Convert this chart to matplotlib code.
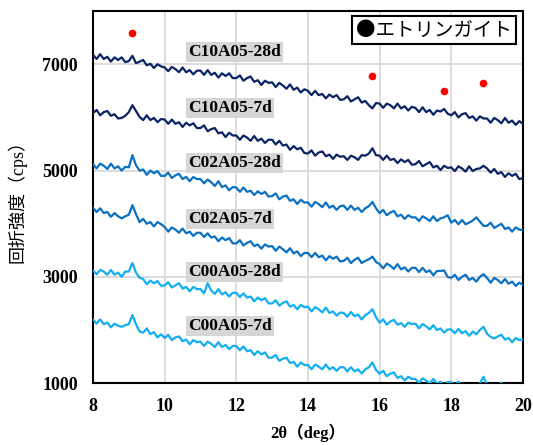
import numpy as np
import matplotlib
matplotlib.use("Agg")
import matplotlib.pyplot as plt

# scan grid: 8 - 20 deg, 0.1 deg step
two_theta = np.linspace(8.0, 20.0, 121)

c10a05_28d = [
    7180, 7100, 7190, 7100, 7140, 7050, 7130, 7080, 7130, 7040,
    7060, 7160, 7020, 7050, 7080, 6980, 7010, 6930, 7000, 6960,
    6940, 6870, 6950, 6910, 6850, 6940, 6850, 6890, 6810, 6880,
    6880, 6800, 6890, 6800, 6840, 6750, 6830, 6780, 6830, 6740,
    6740, 6790, 6690, 6740, 6770, 6670, 6700, 6610, 6690, 6650,
    6660, 6570, 6650, 6600, 6540, 6620, 6520, 6560, 6470, 6530,
    6500, 6420, 6500, 6420, 6440, 6360, 6430, 6380, 6420, 6330,
    6340, 6400, 6300, 6340, 6380, 6280, 6310, 6230, 6170, 6270,
    6260, 6180, 6260, 6230, 6170, 6260, 6170, 6210, 6130, 6200,
    6180, 6100, 6190, 6100, 6140, 6050, 6130, 6110, 6160, 6070,
    6040, 6100, 6000, 6060, 6080, 5990, 6020, 5940, 6020, 5980,
    5980, 5900, 5990, 5950, 5890, 5990, 5900, 5940, 5860, 5930, 5880,
]
c10a05_7d = [
    6080, 6140, 6040, 6100, 6120, 6030, 6060, 5980, 5990, 6030,
    6100, 6230, 6120, 6010, 5950, 6040, 5950, 5990, 5910, 5970,
    5960, 5880, 5960, 5880, 5910, 5820, 5900, 5850, 5890, 5800,
    5800, 5850, 5740, 5780, 5800, 5700, 5720, 5630, 5710, 5660,
    5660, 5580, 5660, 5620, 5560, 5650, 5560, 5600, 5520, 5580,
    5580, 5490, 5560, 5470, 5490, 5390, 5460, 5400, 5430, 5330,
    5320, 5380, 5280, 5340, 5360, 5270, 5300, 5220, 5300, 5260,
    5270, 5200, 5280, 5250, 5200, 5290, 5280, 5320, 5420, 5290,
    5280, 5200, 5280, 5200, 5220, 5140, 5210, 5160, 5200, 5110,
    5120, 5180, 5080, 5120, 5160, 5060, 5090, 5010, 5090, 5050,
    5060, 4990, 5080, 5040, 4980, 5080, 4990, 5030, 5040, 5090,
    5040, 4960, 5030, 4940, 4970, 4880, 4950, 4900, 4940, 4840, 4860,
]
c02a05_28d = [
    5120, 5040, 5130, 5090, 5030, 5130, 5040, 5080, 5000, 5070,
    5060, 5290, 5100, 5000, 5020, 4920, 5000, 4950, 4990, 4900,
    4900, 4960, 4860, 4910, 4940, 4840, 4880, 4800, 4880, 4840,
    4840, 4760, 4830, 4780, 4710, 4800, 4690, 4720, 4630, 4690,
    4680, 4600, 4680, 4600, 4620, 4540, 4610, 4560, 4600, 4510,
    4520, 4570, 4460, 4510, 4530, 4430, 4460, 4370, 4450, 4400,
    4400, 4320, 4410, 4370, 4310, 4400, 4300, 4340, 4260, 4330,
    4340, 4260, 4340, 4260, 4300, 4220, 4290, 4330, 4410, 4290,
    4200, 4260, 4160, 4210, 4240, 4140, 4170, 4090, 4160, 4120,
    4120, 4050, 4140, 4100, 4050, 4140, 4050, 4100, 4120, 4160,
    4020, 4070, 3990, 4070, 3990, 4020, 4060, 4120, 4040, 3960,
    3960, 4020, 3920, 3960, 4000, 3900, 3930, 3850, 3930, 3890, 3880,
]
c02a05_7d = [
    4300, 4220, 4290, 4200, 4220, 4130, 4200, 4140, 4100, 4140,
    4170, 4350, 4180, 4030, 4090, 4000, 4030, 3950, 4030, 3990,
    3940, 3850, 3930, 3890, 3830, 3910, 3820, 3850, 3770, 3830,
    3830, 3750, 3820, 3740, 3760, 3670, 3740, 3690, 3730, 3630,
    3630, 3690, 3590, 3640, 3670, 3580, 3610, 3530, 3610, 3570,
    3580, 3490, 3570, 3520, 3460, 3540, 3440, 3480, 3390, 3450,
    3450, 3370, 3450, 3370, 3400, 3310, 3390, 3340, 3380, 3290,
    3300, 3360, 3260, 3320, 3360, 3260, 3300, 3330, 3380, 3280,
    3240, 3160, 3250, 3210, 3150, 3240, 3140, 3180, 3100, 3170,
    3170, 3090, 3170, 3090, 3120, 3030, 3110, 3110, 3120, 3000,
    2980, 3040, 2940, 3000, 3040, 2940, 2980, 2910, 3000, 3050,
    2980, 2890, 2980, 2940, 2880, 2960, 2870, 2910, 2830, 2890, 2850,
]
c00a05_28d = [
    3120, 3050, 3130, 3100, 3040, 3130, 3040, 3080, 3000, 3100,
    3100, 3260, 3080, 2980, 2960, 2860, 2930, 2880, 2920, 2830,
    2840, 2900, 2800, 2840, 2880, 2780, 2810, 2730, 2810, 2770,
    2770, 2690, 2880, 2740, 2680, 2770, 2670, 2710, 2630, 2700,
    2700, 2620, 2690, 2610, 2630, 2540, 2610, 2560, 2600, 2500,
    2500, 2560, 2460, 2510, 2540, 2440, 2470, 2390, 2470, 2430,
    2440, 2350, 2430, 2390, 2330, 2420, 2320, 2350, 2270, 2330,
    2320, 2250, 2340, 2260, 2290, 2200, 2280, 2320, 2390, 2240,
    2140, 2200, 2100, 2160, 2190, 2100, 2130, 2060, 2140, 2110,
    2120, 2030, 2110, 2070, 2010, 2090, 2000, 2030, 1950, 2010,
    2010, 1940, 2020, 1940, 1980, 1890, 1970, 1920, 2000, 2060,
    1930, 1870, 1840, 1880, 1910, 1820, 1850, 1770, 1850, 1810, 1820,
]
c00a05_7d = [
    2200, 2120, 2200, 2110, 2140, 2050, 2120, 2080, 2060, 2090,
    2110, 2280, 2110, 1970, 1950, 2030, 1920, 1960, 1860, 1920,
    1850, 1910, 1810, 1860, 1880, 1790, 1820, 1730, 1810, 1770,
    1780, 1700, 1780, 1740, 1680, 1770, 1680, 1720, 1640, 1700,
    1700, 1620, 1690, 1600, 1620, 1530, 1600, 1540, 1580, 1480,
    1480, 1530, 1420, 1460, 1480, 1380, 1400, 1310, 1390, 1340,
    1340, 1260, 1350, 1310, 1260, 1350, 1260, 1300, 1230, 1300,
    1300, 1220, 1300, 1220, 1260, 1180, 1260, 1300, 1390, 1250,
    1180, 1230, 1130, 1180, 1200, 1100, 1130, 1050, 1120, 1080,
    1080, 1000, 1090, 1050, 990, 1080, 990, 1030, 950, 1020,
    1020, 950, 1030, 950, 980, 900, 980, 940, 1000, 1120,
    960, 930, 970, 950, 1010, 920, 950, 890, 930, 900, 910,
]

series_names = ["C10A05-28d", "C10A05-7d", "C02A05-28d",
                "C02A05-7d", "C00A05-28d", "C00A05-7d"]
series_values = [c10a05_28d, c10a05_7d, c02a05_28d,
                 c02a05_7d, c00a05_28d, c00a05_7d]
series_colors = ["#0b2265", "#0b2265", "#0a70c2",
                 "#0a70c2", "#12aef0", "#12aef0"]
label_y = [7225, 6175, 5140, 4090, 3095, 2080]

# ettringite peak markers
ett_x = [9.1, 15.8, 17.8, 18.9]
ett_y = [7580, 6775, 6495, 6645]

x_ticks = [8, 10, 12, 14, 16, 18, 20]
y_ticks = [1000, 3000, 5000, 7000]

serif_bold = dict(family=["Liberation Serif", "Noto Sans CJK JP"], weight="bold")

fig = plt.figure(figsize=(5.33, 4.45), dpi=100)
ax = fig.add_axes([0.1745, 0.139, 0.8065, 0.836])

for vals, col in zip(series_values, series_colors):
    ax.plot(two_theta, vals, color=col, lw=1.6, zorder=3)

for name, yy in zip(series_names, label_y):
    ax.text(10.65, yy, name, ha="left", va="center", fontsize=12.5, zorder=4,
            bbox=dict(boxstyle="square,pad=0.12", fc="#d6d6d6", ec="none"),
            **serif_bold)

ax.plot(ett_x, ett_y, "o", color="red", ms=4.5, zorder=5, ls="none")

ax.text(0.793, 0.949, "●エトリンガイト", transform=ax.transAxes,
        ha="center", va="center", fontsize=14, family="Noto Sans CJK JP",
        zorder=6,
        bbox=dict(boxstyle="square,pad=0.2", fc="white", ec="black", lw=1.5))

ax.set_xlim(8, 20)
ax.set_ylim(1000, 8000)
ax.set_xticks(x_ticks)
ax.set_yticks(y_ticks)
ax.grid(True, color="#d9d9d9", lw=1.3, zorder=0)
ax.set_axisbelow(True)
ax.tick_params(length=0, pad=11)
for lab in ax.get_xticklabels() + ax.get_yticklabels():
    lab.set_fontfamily("Liberation Serif")
    lab.set_fontweight("bold")
    lab.set_fontsize(13)
for sp in ax.spines.values():
    sp.set_linewidth(1.5)
    sp.set_color("black")

ax.set_xlabel("2θ（deg）", fontsize=12, labelpad=6, **serif_bold)
ax.set_ylabel("回折強度（cps）", fontsize=13, labelpad=11,
              family=["Liberation Serif", "Noto Sans CJK JP"])

fig.savefig("out.png", dpi=100)
